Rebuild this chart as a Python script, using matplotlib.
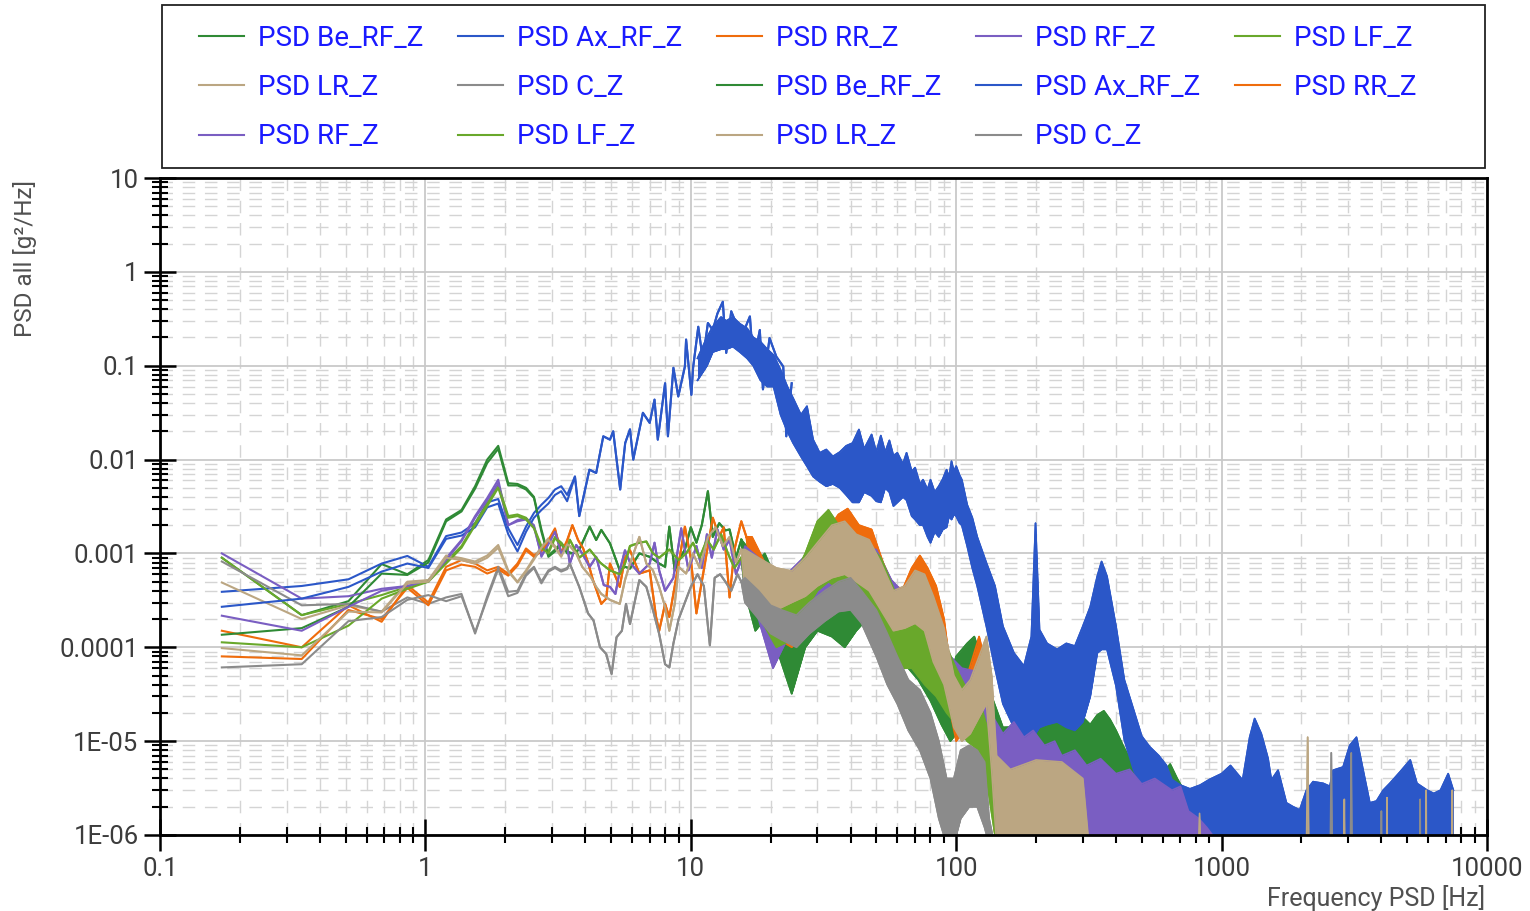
import matplotlib
matplotlib.use("Agg")
import matplotlib.pyplot as plt
from matplotlib.patches import Rectangle
from matplotlib.ticker import LogLocator, NullFormatter

plt.rcParams["font.family"] = ["Roboto", "DejaVu Sans"]

## noms / couleurs des voies
names = ["PSD Be_RF_Z", "PSD Ax_RF_Z", "PSD RR_Z", "PSD RF_Z", "PSD LF_Z", "PSD LR_Z", "PSD C_Z"]
colors = ["#2f8a35", "#2b57c8", "#ef6c0c", "#7a5ec2", "#69a82b", "#bba682", "#8b8b8b"]

xticks = [0.1, 1, 10, 100, 1000, 10000]
xlabels = ["0.1", "1", "10", "100", "1000", "10000"]
yticks = [1e-6, 1e-5, 1e-4, 1e-3, 1e-2, 1e-1, 1, 10]
ylabels = ["1E-06", "1E-05", "0.0001", "0.001", "0.01", "0.1", "1", "10"]

## basses frequences (pas ~0.171 Hz), deux mesures a / b par voie
f_lo = [0.171, 0.342, 0.513, 0.684, 0.855, 1.026, 1.197, 1.368, 1.539, 1.71,
        1.881, 2.052, 2.223, 2.394, 2.565, 2.736, 2.907, 3.078, 3.249, 3.42]

be_a = [9.0e-4, 2.2e-4, 3.1e-4, 7.7e-4, 6.0e-4, 8.5e-4, 2.3e-3, 2.9e-3, 5.2e-3, 1.0e-2,
        1.4e-2, 5.6e-3, 5.5e-3, 5.0e-3, 4.0e-3, 1.8e-3, 9.5e-4, 1.1e-3, 1.3e-3, 1.0e-3]
be_b = [1.36e-4, 1.6e-4, 2.7e-4, 6.1e-4, 5.9e-4, 8.0e-4, 2.2e-3, 2.8e-3, 4.9e-3, 9.2e-3,
        1.3e-2, 5.3e-3, 5.3e-3, 4.8e-3, 3.9e-3, 1.7e-3, 9.2e-4, 1.05e-3, 1.25e-3, 1.05e-3]
ax_a = [3.9e-4, 4.5e-4, 5.3e-4, 7.8e-4, 9.4e-4, 7.2e-4, 1.53e-3, 1.67e-3, 2.1e-3, 3.5e-3,
        3.8e-3, 1.85e-3, 1.23e-3, 1.93e-3, 2.7e-3, 3.3e-3, 3.9e-3, 4.8e-3, 5.2e-3, 4.2e-3]
ax_b = [2.7e-4, 3.3e-4, 4.4e-4, 6.4e-4, 7.8e-4, 7.0e-4, 1.43e-3, 1.55e-3, 1.9e-3, 3.1e-3,
        3.4e-3, 1.6e-3, 1.05e-3, 1.7e-3, 2.4e-3, 2.9e-3, 3.4e-3, 4.2e-3, 4.6e-3, 3.6e-3]
rr_a = [1.5e-4, 1.0e-4, 2.8e-4, 1.87e-4, 4.6e-4, 3.0e-4, 7.2e-4, 8.5e-4, 7.8e-4, 6.6e-4,
        7.2e-4, 6.1e-4, 7.8e-4, 1.13e-3, 9.6e-4, 1.08e-3, 1.39e-3, 1.85e-3, 1.0e-3, 1.39e-3]
rr_b = [8.0e-5, 7.5e-5, 2.5e-4, 2.0e-4, 4.3e-4, 2.8e-4, 6.6e-4, 7.6e-4, 7.2e-4, 6.1e-4,
        6.8e-4, 5.8e-4, 7.4e-4, 1.08e-3, 9.2e-4, 1.05e-3, 1.35e-3, 1.8e-3, 1.0e-3, 1.35e-3]
rf_a = [1.0e-3, 3.3e-4, 3.5e-4, 4.2e-4, 4.5e-4, 5.0e-4, 8.9e-4, 1.39e-3, 2.5e-3, 3.9e-3,
        6.1e-3, 2.0e-3, 2.27e-3, 2.37e-3, 2.0e-3, 9.2e-4, 1.28e-3, 1.78e-3, 1.05e-3, 1.23e-3]
rf_b = [2.17e-4, 1.5e-4, 2.7e-4, 4.0e-4, 4.5e-4, 5.0e-4, 8.5e-4, 1.35e-3, 2.4e-3, 3.7e-3,
        5.6e-3, 2.0e-3, 2.2e-3, 2.3e-3, 1.9e-3, 9.5e-4, 1.25e-3, 1.7e-3, 1.0e-3, 1.2e-3]
lf_a = [9.0e-4, 2.2e-4, 2.9e-4, 3.6e-4, 4.4e-4, 5.2e-4, 8.2e-4, 1.2e-3, 2.1e-3, 3.4e-3,
        5.4e-3, 2.5e-3, 2.6e-3, 2.4e-3, 1.9e-3, 1.2e-3, 1.05e-3, 1.5e-3, 1.3e-3, 1.1e-3]
lf_b = [1.13e-4, 1.0e-4, 1.7e-4, 3.3e-4, 4.2e-4, 5.0e-4, 7.8e-4, 1.15e-3, 2.0e-3, 3.2e-3,
        5.0e-3, 2.4e-3, 2.5e-3, 2.3e-3, 1.85e-3, 1.15e-3, 1.0e-3, 1.45e-3, 1.25e-3, 1.1e-3]
lr_a = [4.9e-4, 2.0e-4, 2.8e-4, 2.4e-4, 5.0e-4, 5.2e-4, 9.5e-4, 8.9e-4, 8.2e-4, 9.5e-4,
        1.23e-3, 6.6e-4, 5.0e-4, 6.6e-4, 9.0e-4, 1.18e-3, 1.45e-3, 1.2e-3, 9.5e-4, 1.3e-3]
lr_b = [9.8e-5, 8.2e-5, 2.4e-4, 2.35e-4, 4.8e-4, 5.0e-4, 9.0e-4, 8.5e-4, 7.8e-4, 9.0e-4,
        1.15e-3, 6.4e-4, 4.9e-4, 6.4e-4, 8.6e-4, 1.15e-3, 1.4e-3, 1.15e-3, 9.2e-4, 1.25e-3]
c_a = [8.2e-4, 2.8e-4, 2.9e-4, 2.4e-4, 3.4e-4, 2.9e-4, 3.4e-4, 3.7e-4, 1.4e-4, 3.5e-4,
       7.2e-4, 3.9e-4, 4.0e-4, 6.1e-4, 7.2e-4, 5.0e-4, 6.6e-4, 7.2e-4, 6.6e-4, 7.0e-4]
c_b = [6.1e-5, 6.6e-5, 1.9e-4, 2.1e-4, 3.2e-4, 3.6e-4, 3.1e-4, 3.5e-4, 1.45e-4, 3.3e-4,
       6.8e-4, 3.5e-4, 3.8e-4, 5.8e-4, 7.0e-4, 4.8e-4, 6.4e-4, 7.0e-4, 6.4e-4, 6.8e-4]

## suite en trait (commune aux deux mesures)
be_f = [3.6, 3.8, 4.16, 4.4, 4.6, 4.96, 5.4, 5.65, 5.9, 6.4, 7.0, 7.6, 8.0, 8.3,
        8.7, 9.0, 9.5, 10.0, 10.5, 11.0, 11.6, 12.1, 12.8, 13.5, 14.0, 14.8, 15.5]
be_v = [1.0e-3, 1.1e-3, 1.93e-3, 1.39e-3, 1.78e-3, 1.28e-3, 6.6e-4, 7.2e-4, 6.9e-4, 1.0e-3,
        9.2e-4, 7.8e-4, 7.2e-4, 1.93e-3, 6.6e-4, 8.5e-4, 1.1e-3, 1.9e-3, 1.3e-3, 2.0e-3,
        4.6e-3, 1.5e-3, 2.1e-3, 1.76e-3, 1.8e-3, 9.0e-4, 1.4e-3]
ax_f = [3.66, 3.8, 4.15, 4.4, 4.68, 4.96, 5.1, 5.42, 5.66, 5.9, 6.07, 6.6, 7.0, 7.3,
        7.51, 8.0, 8.2, 8.6, 8.97, 9.5, 9.6, 10.05, 10.2, 10.67, 11.1, 11.6, 12.1, 12.6,
        13.2, 13.6, 14.2, 14.8, 15.7, 16.7, 17.2, 18.2, 18.7, 19.8, 21.0, 22.3, 22.9, 24.0]
ax_v = [6.6e-3, 2.5e-3, 7.8e-3, 7.2e-3, 1.77e-2, 1.63e-2, 2.0e-2, 4.8e-3, 1.5e-2, 2.1e-2,
        1.0e-2, 3.15e-2, 2.46e-2, 4.35e-2, 1.63e-2, 6.5e-2, 1.77e-2, 9.5e-2, 4.7e-2, 9.8e-2,
        0.19, 4.9e-2, 9.5e-2, 0.26, 0.116, 0.285, 0.24, 0.36, 0.48, 0.137,
        0.38, 0.285, 0.22, 0.335, 0.107, 0.24, 0.056, 0.197, 0.125, 0.098,
        0.0177, 0.065]
rr_f = [3.58, 3.76, 3.93, 4.1, 4.28, 4.6, 4.8, 4.96, 5.4, 5.65, 5.9, 6.4, 7.0, 7.4, 7.6,
        8.0, 8.3, 9.0, 9.5, 10.0, 10.5, 11.0, 11.6, 12.1, 12.8, 13.3, 14.0, 14.6, 15.5, 16.2]
rr_v = [2.0e-3, 1.39e-3, 1.13e-3, 8.0e-4, 5.2e-4, 2.9e-4, 3.3e-4, 7.8e-4, 4.4e-4, 9.0e-4,
        1.08e-3, 6.1e-4, 6.6e-4, 2.1e-4, 1.5e-4, 2.9e-4, 2.1e-4, 7.8e-4, 1.93e-3, 8.9e-4,
        2.3e-4, 5.0e-4, 1.2e-3, 2.4e-3, 1.5e-3, 1.9e-3, 3.4e-4, 1.1e-3, 2.2e-3, 1.5e-3]
rf_f = [3.5, 3.7, 3.9, 4.16, 4.4, 4.7, 4.96, 5.2, 5.4, 5.65, 5.9, 6.4, 7.0, 7.3,
        7.6, 8.0, 8.6, 9.2, 9.8, 10.5, 11.0, 11.5, 12.0, 12.6, 13.3, 14.0, 14.8, 15.5]
rf_v = [7.8e-4, 1.23e-3, 1.0e-3, 7.2e-4, 9.2e-4, 4.6e-4, 4.4e-4, 3.7e-4, 6.6e-4, 1.08e-3,
        8.0e-4, 6.1e-4, 7.8e-4, 1.3e-3, 6.6e-4, 4.0e-4, 5.5e-4, 1.85e-3, 6.6e-4, 1.2e-3,
        7.0e-4, 1.6e-3, 9.0e-4, 1.8e-3, 1.1e-3, 1.4e-3, 6.0e-4, 8.5e-4]
lf_f = [3.5, 3.8, 4.16, 4.55, 4.96, 5.4, 5.65, 5.9, 6.4, 6.8, 7.2, 7.6, 8.3, 9.0,
        9.6, 10.2, 10.8, 11.5, 12.2, 13.0, 13.8, 14.6, 15.5]
lf_v = [1.4e-3, 9.0e-4, 1.1e-3, 8.0e-4, 6.6e-4, 6.0e-4, 7.8e-4, 1.2e-3, 1.3e-3, 1.34e-3,
        1.0e-3, 9.0e-4, 1.1e-3, 8.5e-4, 1.0e-3, 1.3e-3, 9.0e-4, 1.4e-3, 1.1e-3, 1.6e-3,
        1.0e-3, 7.0e-4, 9.0e-4]
lr_f = [3.5, 3.7, 3.9, 4.2, 4.4, 4.6, 4.96, 5.4, 5.65, 5.9, 6.4, 6.8, 7.2, 7.6,
        8.0, 8.3, 8.7, 9.0, 9.6, 10.2, 10.8, 11.6, 12.4, 13.2, 14.0, 14.8, 15.5]
lr_v = [1.2e-3, 1.0e-3, 7.2e-4, 5.6e-4, 4.4e-4, 3.7e-4, 3.2e-4, 2.9e-4, 5.2e-4, 7.8e-4,
        1.5e-3, 7.8e-4, 6.6e-4, 4.4e-4, 2.7e-4, 1.5e-4, 2.9e-4, 7.2e-4, 6.1e-4, 1.0e-3,
        7.0e-4, 1.5e-3, 1.9e-3, 1.2e-3, 1.5e-3, 8.0e-4, 1.1e-3]
c_f = [3.5, 3.8, 4.1, 4.3, 4.55, 4.8, 5.03, 5.25, 5.5, 5.7, 5.9, 6.4, 6.8, 7.2, 7.6,
       8.0, 8.3, 8.6, 9.0, 9.5, 10.0, 10.6, 11.2, 11.8, 12.3, 12.9, 13.5, 14.2, 15.0, 15.5]
c_v = [7.8e-4, 4.4e-4, 2.3e-4, 1.93e-4, 1.0e-4, 8.5e-5, 5.2e-5, 1.28e-4, 1.5e-4, 2.9e-4,
       1.77e-4, 5.2e-4, 4.4e-4, 2.5e-4, 1.39e-4, 6.6e-5, 6.1e-5, 1.1e-4, 2.0e-4, 3.0e-4,
       4.4e-4, 6.0e-4, 4.5e-4, 1.05e-4, 5.5e-4, 6.0e-4, 5.0e-4, 4.0e-4, 6.0e-4, 5.0e-4]

## zone dense : enveloppe haute / basse
be_bf = [15.5, 16.2, 17.5, 19, 21, 24, 27, 30, 34, 38, 42, 46, 50, 55, 60, 66, 72, 80, 88, 95,
         100, 110, 117, 125, 135, 150, 170, 190,
         200, 210, 222, 235, 250, 265, 280, 300, 320, 340,
         360, 380, 400, 425, 450, 480, 520, 560, 600, 640,
         680, 720, 760, 850, 950, 1000]
be_hi = [1.4e-3, 1.2e-3, 7.8e-4, 1.0e-3, 5.2e-4, 3.4e-4, 5.2e-4, 6.5e-4, 5.2e-4, 3.9e-4,
         6.0e-4, 7.0e-4, 4.5e-4, 2.3e-4, 2.6e-4, 2.0e-4, 1.6e-4, 1.2e-4, 8.0e-5, 5.0e-5,
         8.0e-5, 1.1e-4, 1.3e-4, 7.3e-5, 3.2e-5, 1.4e-5, 1.42e-5, 2.5e-5,
         1.2e-4, 4.0e-5, 1.6e-5, 2.4e-5, 1.5e-5, 2.0e-5, 1.3e-5, 1.8e-5, 1.5e-5, 1.9e-5,
         2.1e-5, 1.7e-5, 1.3e-5, 9e-6, 6.5e-6, 4.5e-6, 3.5e-6, 3.0e-6, 4.5e-6, 5.7e-6,
         4.0e-6, 3.0e-6, 2.2e-6, 2.0e-6, 1.3e-6, 8e-7]
be_lo = [1.4e-3, 3.4e-4, 1.5e-4, 2.0e-4, 1.0e-4, 3.2e-5, 1.0e-4, 1.5e-4, 1.3e-4, 1.0e-4,
         1.5e-4, 2.0e-4, 1.2e-4, 6.7e-5, 7.0e-5, 6.0e-5, 4.5e-5, 2.7e-5, 1.5e-5, 1.0e-5,
         1.2e-5, 2.5e-5, 3.0e-5, 2.0e-5, 8.0e-6, 5.0e-6, 4.0e-6, 5.0e-6,
         1.0e-5, 8e-6, 6e-6, 5e-6, 5e-6, 4.5e-6, 4e-6, 4e-6, 4e-6, 4.5e-6,
         4.5e-6, 4e-6, 3e-6, 2.5e-6, 2e-6, 1.6e-6, 1.3e-6, 1.2e-6, 1.3e-6, 1.5e-6,
         1.2e-6, 1.0e-6, 8e-7, 8e-7, 8e-7, 8e-7]

ax_bf = [10.6, 11.5, 12.1, 13.0, 13.6, 14.4, 15.3, 16.3, 17.2, 18.3,
         19.4, 20.5, 21.8, 23.1, 24.3, 26, 27.4, 28.9, 30.6, 32.4,
         34.3, 36.4, 38.5, 40.7, 43, 45, 48, 50, 52, 54,
         56, 58, 60, 63, 65, 68, 70, 73, 75, 78,
         80, 83, 86, 89, 92, 94, 96, 98, 100, 103,
         105, 110, 115, 120, 130, 140, 150, 165, 180, 192,
         199, 206, 220, 240, 260, 280, 300, 320, 340, 353,
         370, 400, 430, 465, 500, 536, 580, 620, 650, 700,
         760, 830, 900, 1000, 1080, 1200, 1276, 1332, 1411, 1496,
         1540, 1632, 1755, 1859, 1970, 2088, 2212, 2414, 2558, 2632,
         2869, 3040, 3222, 3414, 3618, 3834, 4063, 4305, 4703, 5137,
         5445, 5949, 6303, 6680, 7140, 7467]
ax_hi = [0.12, 0.2, 0.26, 0.33, 0.3, 0.33, 0.28, 0.25, 0.2, 0.18,
         0.15, 0.13, 0.09, 0.06, 0.045, 0.03, 0.037, 0.0163, 0.0118, 0.0128,
         0.0108, 0.012, 0.014, 0.015, 0.0209, 0.013, 0.0185, 0.012, 0.018, 0.012,
         0.016, 0.011, 0.0118, 0.009, 0.0118, 0.0075, 0.0082, 0.0055, 0.0061, 0.0048,
         0.0061, 0.0045, 0.0052, 0.0062, 0.0078, 0.0065, 0.0096, 0.0075, 0.0085, 0.0068,
         0.0061, 0.0033, 0.0024, 0.0015, 7.9e-4, 4.5e-4, 1.67e-4, 8.7e-5, 6.3e-5, 1.3e-4,
         2.1e-3, 1.54e-4, 1.1e-4, 9.5e-5, 1.1e-4, 1.03e-4, 1.67e-4, 2.7e-4, 5.7e-4, 8.2e-4,
         5.7e-4, 1.67e-4, 4.5e-5, 2.2e-5, 1.13e-5, 8.7e-6, 7.0e-6, 5.5e-6, 3.9e-6, 3.4e-6,
         3.1e-6, 3.4e-6, 3.9e-6, 4.5e-6, 5.5e-6, 3.85e-6, 1.1e-5, 1.74e-5, 1.2e-5, 6.55e-6,
         3.85e-6, 4.9e-6, 2.2e-6, 2.0e-6, 1.85e-6, 3.0e-6, 3.7e-6, 3.55e-6, 3.3e-6, 4.9e-6,
         5.3e-6, 9.0e-6, 1.1e-5, 4.9e-6, 2.2e-6, 2.3e-6, 3.0e-6, 3.55e-6, 4.7e-6, 6.3e-6,
         3.55e-6, 3.0e-6, 2.77e-6, 3.0e-6, 4.5e-6, 3.0e-6]
ax_lo = [0.07, 0.1, 0.14, 0.15, 0.15, 0.16, 0.14, 0.12, 0.1, 0.07,
         0.06, 0.06, 0.03, 0.02, 0.015, 0.0108, 0.0085, 0.0066, 0.0058, 0.0052,
         0.0055, 0.005, 0.0042, 0.0035, 0.0035, 0.0045, 0.0041, 0.0036, 0.0035, 0.005,
         0.0045, 0.0032, 0.0035, 0.004, 0.0037, 0.0025, 0.0023, 0.002, 0.002, 0.0015,
         0.0013, 0.0017, 0.0015, 0.0018, 0.0019, 0.0025, 0.0023, 0.0026, 0.0025, 0.0021,
         0.002, 0.0012, 7e-4, 4.5e-4, 1.67e-4, 6.0e-5, 2.5e-5, 1.4e-5, 1.0e-5, 9.0e-6,
         1.2e-5, 1.4e-5, 1.5e-5, 1.6e-5, 1.4e-5, 1.3e-5, 1.6e-5, 3.0e-5, 8.7e-5, 9.5e-5,
         9.5e-5, 3.9e-5, 1.04e-5, 5.0e-6, 3.0e-6, 2.3e-6, 1.8e-6, 1.3e-6, 5e-7, 5e-7,
         5e-7, 5e-7, 5e-7, 5e-7, 5e-7, 5e-7, 5e-7, 5e-7, 5e-7, 5e-7,
         5e-7, 5e-7, 5e-7, 5e-7, 5e-7, 5e-7, 5e-7, 5e-7, 5e-7, 5e-7,
         5e-7, 5e-7, 5e-7, 5e-7, 5e-7, 5e-7, 5e-7, 5e-7, 5e-7, 5e-7,
         5e-7, 5e-7, 5e-7, 5e-7, 5e-7, 5e-7]

rr_bf = [16.2, 17, 19, 21.6, 24, 27, 30, 33, 36, 39, 43, 48, 53, 58, 63, 68, 73, 78, 84, 90,
         95, 100, 110, 122, 130, 140, 150]
rr_hi = [1.5e-3, 1.5e-3, 8.0e-4, 6.0e-4, 5.0e-4, 6.0e-4, 9.0e-4, 1.8e-3, 2.6e-3, 3.0e-3,
         2.0e-3, 1.8e-3, 8.0e-4, 4.5e-4, 4.2e-4, 7.0e-4, 9.5e-4, 7.0e-4, 4.5e-4, 2.0e-4,
         6.0e-5, 3.0e-5, 5.0e-5, 1.3e-4, 6.0e-5, 5.0e-6, 9e-7]
rr_lo = [1.5e-3, 4.0e-4, 2.0e-4, 1.2e-4, 1.0e-4, 1.5e-4, 2.5e-4, 4.0e-4, 5.0e-4, 6.0e-4,
         5.0e-4, 4.0e-4, 2.0e-4, 1.3e-4, 1.5e-4, 2.0e-4, 2.5e-4, 1.8e-4, 1.0e-4, 5.0e-5,
         2.0e-5, 1.0e-5, 1.5e-5, 3.0e-5, 1.5e-5, 1.0e-6, 8e-7]

rf_bf = [15.5, 16, 18, 20.4, 23, 27, 31, 36, 42, 50, 57, 65, 75, 85, 95, 105, 120,
         135, 150, 165, 180, 195, 215, 235, 250, 280, 310,
         350, 400, 450, 500, 560, 650, 700, 750, 820, 880, 950]
rf_hi = [8.5e-4, 1.2e-3, 9.0e-4, 6.0e-4, 6.0e-4, 9.4e-4, 1.3e-3, 1.1e-3, 1.2e-3, 1.1e-3,
         5.2e-4, 3.5e-4, 2.5e-4, 1.7e-4, 8.0e-5, 6.0e-5, 5.5e-5,
         2.0e-5, 1.2e-5, 1.6e-5, 1.1e-5, 1.3e-5, 9e-6, 1.0e-5, 7e-6, 8e-6, 5.5e-6,
         6.5e-6, 4.5e-6, 5e-6, 3.5e-6, 4e-6, 3.0e-6, 3.3e-6, 1.8e-6, 1.5e-6, 1.2e-6, 9e-7]
rf_lo = [8.5e-4, 4.0e-4, 2.0e-4, 6.0e-5, 1.2e-4, 2.0e-4, 3.5e-4, 3.5e-4, 3.0e-4, 2.0e-4,
         1.0e-4, 7.0e-5, 6.0e-5, 4.0e-5, 3.0e-5, 2.5e-5, 2.0e-5,
         5e-6, 3e-6, 3e-6, 2.5e-6, 2e-6, 1.5e-6, 1.2e-6, 1.0e-6, 8e-7, 8e-7,
         8e-7, 8e-7, 8e-7, 8e-7, 8e-7, 8e-7, 8e-7, 8e-7, 8e-7, 8e-7, 8e-7]

lf_bf = [15.5, 16, 18, 21, 24, 27, 30, 33, 37, 42, 47, 52, 60, 68, 76, 84, 92, 100, 110, 122,
         130, 140, 148]
lf_hi = [9.0e-4, 1.1e-3, 8.0e-4, 4.5e-4, 5.0e-4, 1.0e-3, 2.2e-3, 2.9e-3, 1.8e-3, 1.3e-3,
         1.2e-3, 9.0e-4, 3.4e-4, 2.6e-4, 2.4e-4, 2.2e-4, 1.0e-4, 6.0e-5, 3.5e-5, 2.8e-5,
         1.5e-5, 4.0e-6, 9e-7]
lf_lo = [9.0e-4, 4.0e-4, 2.2e-4, 1.0e-4, 1.2e-4, 2.5e-4, 4.0e-4, 5.0e-4, 4.0e-4, 2.5e-4,
         2.0e-4, 1.5e-4, 6.0e-5, 6.0e-5, 4.0e-5, 3.0e-5, 2.0e-5, 1.5e-5, 1.0e-5, 8.0e-6,
         4.0e-6, 1.0e-6, 8e-7]

lr_bf = [15.5, 16, 18, 21, 24, 27, 30, 34, 38, 42, 47, 52, 58, 64, 70, 76, 82, 90, 98, 105,
         113, 122, 130, 136, 142, 160, 200, 250, 300, 315,
         820, 826, 832, 2090, 2110, 2130, 2890, 2900, 2910, 4190,
         4200, 4210, 5890, 5900, 5910, 7390, 7400, 7410]
lr_hi = [1.1e-3, 1.1e-3, 9.0e-4, 7.0e-4, 6.5e-4, 9.0e-4, 1.3e-3, 2.0e-3, 2.2e-3, 1.6e-3,
         1.4e-3, 8.0e-4, 4.0e-4, 4.5e-4, 6.6e-4, 6.0e-4, 3.5e-4, 1.6e-4, 5.0e-5, 3.5e-5,
         4.5e-5, 8.0e-5, 1.3e-4, 5.0e-5, 7.0e-6, 5.0e-6, 6.3e-6, 6.0e-6, 4.0e-6, 9e-7,
         9e-7, 1.7e-6, 9e-7, 9e-7, 1.1e-5, 9e-7, 9e-7, 2.4e-6, 9e-7, 9e-7,
         2.5e-6, 9e-7, 9e-7, 3.0e-6, 9e-7, 9e-7, 3.0e-6, 9e-7]
lr_lo = [1.1e-3, 4.0e-4, 3.0e-4, 2.5e-4, 3.0e-4, 3.5e-4, 4.5e-4, 5.5e-4, 6.0e-4, 5.0e-4,
         4.0e-4, 2.5e-4, 1.5e-4, 1.6e-4, 1.8e-4, 1.5e-4, 7.0e-5, 4.0e-5, 1.4e-5, 1.0e-5,
         1.2e-5, 1.8e-5, 2.5e-5, 5.0e-6, 8e-7, 8e-7, 8e-7, 8e-7, 8e-7, 8e-7,
         8e-7, 8e-7, 8e-7, 8e-7, 8e-7, 8e-7, 8e-7, 8e-7, 8e-7, 8e-7,
         8e-7, 8e-7, 8e-7, 8e-7, 8e-7, 8e-7, 8e-7, 8e-7]

c_bf = [15.5, 16, 18, 20, 22, 25, 28, 32, 36, 40, 44, 50, 55, 60, 66, 73, 80, 86, 92, 98,
        104, 112, 120, 128, 133, 138, 2570, 2590, 2610, 3060,
        3080, 3100, 3990, 4000, 4010, 5590, 5600, 5610]
c_hi = [5.0e-4, 5.5e-4, 4.0e-4, 2.8e-4, 2.5e-4, 2.2e-4, 3.0e-4, 4.0e-4, 5.0e-4, 5.5e-4,
        4.0e-4, 2.5e-4, 1.4e-4, 8.0e-5, 4.5e-5, 3.5e-5, 2.0e-5, 1.0e-5, 4.0e-6, 4.0e-6,
        8.0e-6, 9.0e-6, 8.0e-6, 6.0e-6, 1.5e-6, 9e-7, 9e-7, 7.5e-6, 9e-7, 9e-7,
        7.5e-6, 9e-7, 9e-7, 1.8e-6, 9e-7, 9e-7, 2.4e-6, 9e-7]
c_lo = [5.0e-4, 3.0e-4, 2.0e-4, 1.4e-4, 1.2e-4, 1.0e-4, 1.4e-4, 1.9e-4, 2.4e-4, 2.5e-4,
        1.8e-4, 8.0e-5, 4.0e-5, 2.5e-5, 1.3e-5, 8.0e-6, 4.0e-6, 1.5e-6, 8e-7, 8e-7,
        1.5e-6, 2.0e-6, 2.0e-6, 1.2e-6, 8e-7, 8e-7, 8e-7, 8e-7, 8e-7, 8e-7,
        8e-7, 8e-7, 8e-7, 8e-7, 8e-7, 8e-7, 8e-7, 8e-7]

voies = [
    (be_a, be_b, be_f, be_v, be_bf, be_hi, be_lo),
    (ax_a, ax_b, ax_f, ax_v, ax_bf, ax_hi, ax_lo),
    (rr_a, rr_b, rr_f, rr_v, rr_bf, rr_hi, rr_lo),
    (rf_a, rf_b, rf_f, rf_v, rf_bf, rf_hi, rf_lo),
    (lf_a, lf_b, lf_f, lf_v, lf_bf, lf_hi, lf_lo),
    (lr_a, lr_b, lr_f, lr_v, lr_bf, lr_hi, lr_lo),
    (c_a, c_b, c_f, c_v, c_bf, c_hi, c_lo),
]

## Dessin
W, H = 1530, 911
fig = plt.figure(figsize=(W / 100, H / 100), dpi=100)
ax = fig.add_axes([160 / W, 1 - 835 / H, (1487 - 160) / W, (835 - 178) / H])
ax.set_xscale("log")
ax.set_yscale("log")

handles = []
for mesure in (0, 1):
    for i, v in enumerate(voies):
        col = colors[i]
        ln, = ax.plot(f_lo + v[2], v[mesure] + v[3], color=col, lw=1.5, label=names[i], zorder=2)
        ax.fill_between(v[4], v[6], v[5], color=col, lw=0, zorder=2)
        ax.plot(v[4], v[5], color=col, lw=1.2, zorder=2)
        ax.plot(v[4], v[6], color=col, lw=1.2, zorder=2)
        handles.append(ln)

ax.set_xlim(0.1, 10000)
ax.set_ylim(1e-6, 10)

ax.set_xticks(xticks, labels=xlabels)
ax.set_yticks(yticks, labels=ylabels)
ax.xaxis.set_minor_locator(LogLocator(base=10, subs=range(2, 10), numticks=30))
ax.yaxis.set_minor_locator(LogLocator(base=10, subs=range(2, 10), numticks=30))
ax.xaxis.set_minor_formatter(NullFormatter())
ax.yaxis.set_minor_formatter(NullFormatter())

ax.set_axisbelow(True)
ax.grid(which="major", color="#c9c9c9", lw=1.3, ls="-")
ax.grid(which="minor", color="#d4d4d4", lw=1.0, ls=(0, (9, 7)))

ax.tick_params(which="major", direction="inout", length=23, width=1.8, color="black",
               labelsize=18.5, labelcolor="#3c3c3c", pad=4)
ax.tick_params(which="minor", direction="inout", length=12, width=1.5, color="black")
for s in ax.spines.values():
    s.set_linewidth(2)
    s.set_color("black")

fig.text(25 / W, 1 - 180 / H, "PSD all [g²/Hz]", rotation=90, ha="center", va="top",
         fontsize=17.5, color="#505050")
fig.text(1485 / W, 1 - 898 / H, "Frequency PSD [Hz]", ha="right", va="center",
         fontsize=18, color="#505050")

# legende remplie ligne par ligne (5 colonnes)
ordre = [0, 5, 10, 1, 6, 11, 2, 7, 12, 3, 8, 13, 4, 9]
fig.legend([handles[k] for k in ordre], [handles[k].get_label() for k in ordre],
           loc="upper left", bbox_to_anchor=(199 / W, 1 - 25 / H), ncol=5,
           frameon=False, borderpad=0, borderaxespad=0, fontsize=20,
           labelcolor="#1a1aff", handlelength=1.62, handletextpad=0.5,
           columnspacing=1.25, labelspacing=0.8)
fig.patches.append(Rectangle((162 / W, 1 - 168 / H), 1323 / W, 163 / H,
                             transform=fig.transFigure, fill=False,
                             edgecolor="#222222", lw=1.3))

fig.savefig("out.png", dpi=100)
